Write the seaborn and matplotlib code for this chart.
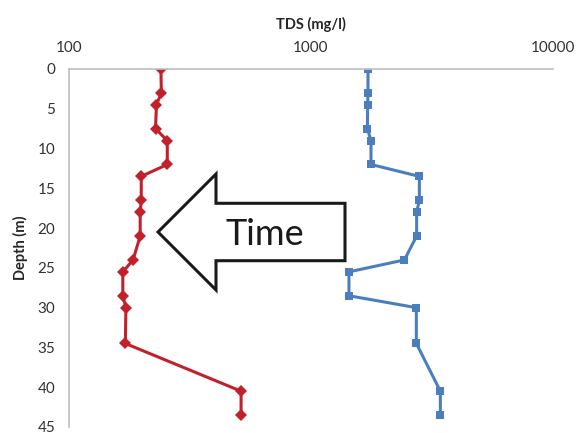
import matplotlib
matplotlib.use("Agg")
import matplotlib.pyplot as plt
import seaborn as sns
import pandas as pd
from matplotlib.patches import Polygon

depth = [0, 3, 4.5, 7.5, 9, 12, 13.5, 16.5, 18, 21, 24, 25.5, 28.5, 30, 34.5, 40.5, 43.5]
tds_red = [240, 241, 230, 228, 255, 255, 199, 199, 197, 197, 184, 167, 167, 172, 171, 515, 515]
tds_blue = [1725, 1725, 1720, 1715, 1775, 1775, 2814, 2814, 2742, 2742, 2439, 1439, 1439, 2734, 2734, 3437, 3437]
x_ticks = [100, 1000, 10000]
x_tick_labels = ["100", "1000", "10000"]
y_ticks = [0, 5, 10, 15, 20, 25, 30, 35, 40, 45]

sns.set_style("white")
plt.rcParams['font.family'] = ['Lato', 'DejaVu Sans']

W, H = 578, 433
fig = plt.figure(figsize=(W / 100, H / 100), dpi=100)
ax = fig.add_axes([69 / W, 1 - 427 / H, (552.5 - 69) / W, (427 - 69) / H])

df_red = pd.DataFrame({"tds": tds_red, "depth": depth})
df_blue = pd.DataFrame({"tds": tds_blue, "depth": depth})

sns.lineplot(data=df_red, x="tds", y="depth", sort=False, estimator=None, ax=ax,
             color="#C0212B", lw=2.2, marker="D", markersize=6, markeredgewidth=0)
sns.lineplot(data=df_blue, x="tds", y="depth", sort=False, estimator=None, ax=ax,
             color="#4A7EBF", lw=2.2, marker="s", markersize=6, markeredgewidth=0)

ax.set_xscale("log")
ax.set_xlim(100, 10000)
ax.set_ylim(45, 0)
ax.xaxis.tick_top()
ax.xaxis.set_label_position("top")
ax.set_xticks(x_ticks)
ax.set_xticklabels(x_tick_labels)
ax.xaxis.set_minor_locator(matplotlib.ticker.NullLocator())
ax.set_yticks(y_ticks)
ax.tick_params(axis="both", length=0, labelsize=11, colors="#333333")
ax.tick_params(axis="x", pad=10)
ax.tick_params(axis="y", pad=10)
ax.set_xlabel("TDS (mg/l)", fontsize=10.5, fontweight="bold", labelpad=9)
ax.set_ylabel("Depth (m)", fontsize=10.5, fontweight="bold", labelpad=7)
for s in ["right", "bottom"]:
    ax.spines[s].set_visible(False)
for s in ["top", "left"]:
    ax.spines[s].set_color("#BFBFBF")
    ax.spines[s].set_linewidth(1.2)
ax.grid(False)

# arrow annotation (in figure pixel coordinates)
pts = [(158, 232), (216, 174), (216, 203.3), (345, 203.3), (345, 260.7),
       (216, 260.7), (216, 290)]
pts_fig = [(x / W, 1 - y / H) for x, y in pts]
arrow = Polygon(pts_fig, closed=True, transform=fig.transFigure, facecolor="white",
                edgecolor="#1a1a1a", lw=2.2, zorder=5)
fig.patches.append(arrow)
fig.text(265 / W, 1 - 234 / H, "Time", fontsize=26, ha="center", va="center",
         color="#1a1a1a", zorder=6)

fig.savefig("out.png", dpi=100)
